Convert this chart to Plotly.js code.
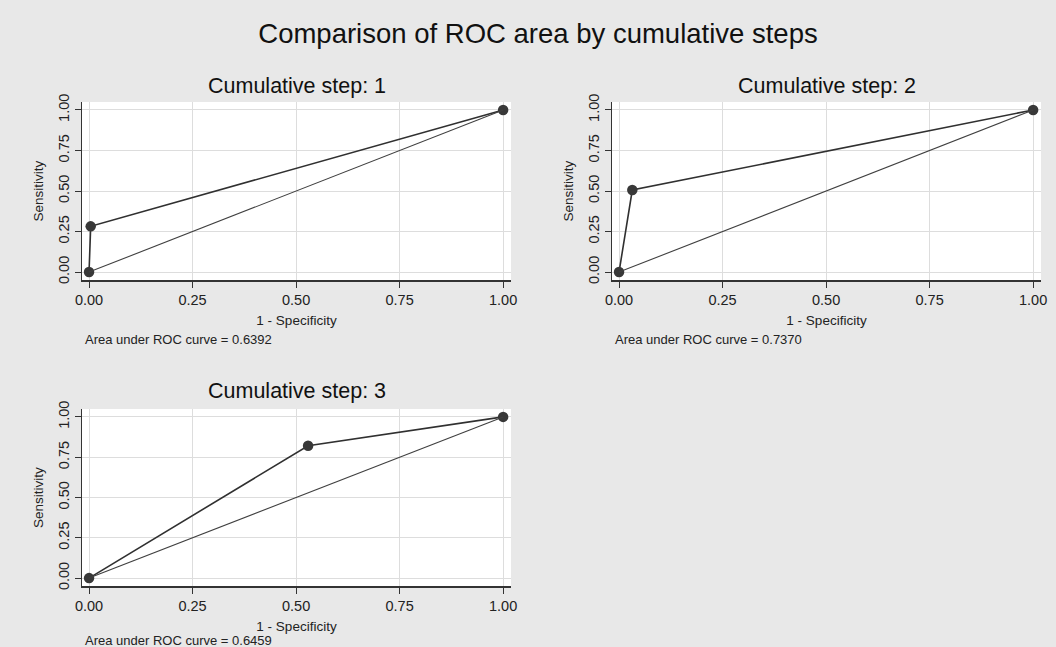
<!DOCTYPE html>
<html>
<head>
<meta charset="utf-8">
<script src="https://cdn.plot.ly/plotly-3.0.1.min.js"></script>
<style>html,body{margin:0;padding:0;background:#e8e8e8;}#chart{width:1056px;height:647px;}</style>
</head>
<body>
<div id="chart"></div>
<script>
// Data
const panelTitles = ["Cumulative step: 1", "Cumulative step: 2", "Cumulative step: 3"];
const aucLabels = ["Area under ROC curve = 0.6392", "Area under ROC curve = 0.7370", "Area under ROC curve = 0.6459"];
const fpr1 = [0, 0.004, 1];
const tpr1 = [0, 0.282, 1];
const fpr2 = [0, 0.032, 1];
const tpr2 = [0, 0.506, 1];
const fpr3 = [0, 0.529, 1];
const tpr3 = [0, 0.821, 1];
const refX = [0, 1];
const refY = [0, 1];
const tickVals = [0, 0.25, 0.5, 0.75, 1];
const tickText = ["0.00", "0.25", "0.50", "0.75", "1.00"];

const W = 1056, H = 647;
const fonts = "Liberation Sans, Arial, sans-serif";
const curveColor = "#303030";
const curves = [[fpr1, tpr1], [fpr2, tpr2], [fpr3, tpr3]];
const axes = [["x", "y"], ["x2", "y2"], ["x3", "y3"]];

const traces = [];
curves.forEach((c, i) => {
  traces.push({
    x: c[0], y: c[1], xaxis: axes[i][0], yaxis: axes[i][1],
    type: "scatter", mode: "lines+markers",
    line: {color: curveColor, width: 1.6},
    marker: {color: "#383838", size: 10.5, line: {width: 0}},
    showlegend: false, hoverinfo: "x+y"
  });
  traces.push({
    x: refX, y: refY, xaxis: axes[i][0], yaxis: axes[i][1],
    type: "scatter", mode: "lines",
    line: {color: "#404040", width: 1.1},
    showlegend: false, hoverinfo: "skip"
  });
});

// pixel boxes of plot areas [left, right, top, bottom]
const boxes = [[82, 511, 102, 280], [612, 1041, 102, 280], [82, 511, 409, 586]];
const xr = [-0.017, 1.019];
const yr = [-0.049, 1.049];

function xaxis(b, anchor) {
  return {
    domain: [b[0] / W, b[1] / W], anchor: anchor, range: xr,
    tickmode: "array", tickvals: tickVals, ticktext: tickText,
    ticks: "outside", ticklen: 6, tickcolor: "#333", tickwidth: 1,
    showline: true, linecolor: "#333", linewidth: 1.5, mirror: false,
    showgrid: true, gridcolor: "#dddddd", gridwidth: 1, zeroline: false,
    tickfont: {family: fonts, size: 14.5, color: "#222"},
    title: {text: "1 - Specificity", font: {family: fonts, size: 13.5, color: "#222"}, standoff: 8},
    fixedrange: true
  };
}
function yaxis(b, anchor) {
  return {
    domain: [1 - b[3] / H, 1 - b[2] / H], anchor: anchor, range: yr,
    tickmode: "array", tickvals: tickVals, ticktext: tickText,
    tickangle: -90,
    ticks: "outside", ticklen: 6, tickcolor: "#333", tickwidth: 1,
    showline: true, linecolor: "#333", linewidth: 1.5, mirror: false,
    showgrid: true, gridcolor: "#dddddd", gridwidth: 1, zeroline: false,
    tickfont: {family: fonts, size: 14.5, color: "#222"},
    title: {text: "Sensitivity", font: {family: fonts, size: 13.5, color: "#222"}, standoff: 9},
    fixedrange: true
  };
}

const annotations = [];
const titleY = [86, 86, 391];
const aucY = [339, 339, 640];
boxes.forEach((b, i) => {
  annotations.push({
    text: panelTitles[i], xref: "paper", yref: "paper",
    x: (b[0] + b[1]) / 2 / W, y: 1 - titleY[i] / H,
    xanchor: "center", yanchor: "middle", showarrow: false,
    font: {family: fonts, size: 21.5, color: "#111"}
  });
  annotations.push({
    text: aucLabels[i], xref: "paper", yref: "paper",
    x: (b[0] + 1) / W, y: 1 - aucY[i] / H,
    xanchor: "left", yanchor: "middle", showarrow: false,
    font: {family: fonts, size: 13, color: "#222"}
  });
});

const layout = {
  width: W, height: H,
  margin: {l: 0, r: 0, t: 0, b: 0},
  paper_bgcolor: "#e8e8e8", plot_bgcolor: "#ffffff",
  title: {text: "Comparison of ROC area by cumulative steps", x: 538 / W, xanchor: "center",
          y: 1 - 33 / H, yanchor: "middle", font: {family: fonts, size: 27.5, color: "#111"}},
  xaxis: xaxis(boxes[0], "y"), yaxis: yaxis(boxes[0], "x"),
  xaxis2: xaxis(boxes[1], "y2"), yaxis2: yaxis(boxes[1], "x2"),
  xaxis3: xaxis(boxes[2], "y3"), yaxis3: yaxis(boxes[2], "x3"),
  annotations: annotations,
  showlegend: false
};

Plotly.newPlot("chart", traces, layout, {displayModeBar: false, staticPlot: true});
</script>
</body>
</html>
